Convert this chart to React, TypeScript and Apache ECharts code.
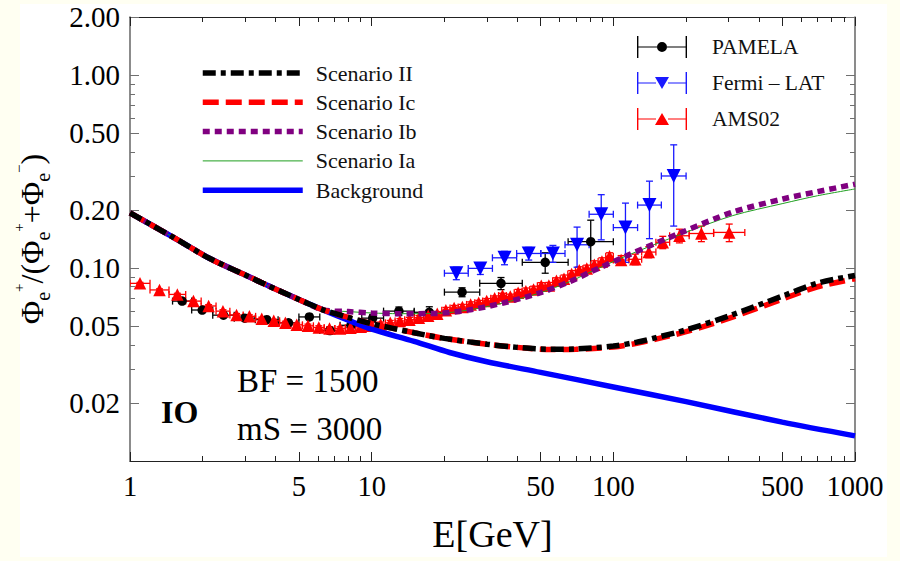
import { useEffect, useRef } from 'react';
import * as echarts from 'echarts';

// ---------- tick values ----------
const xMajor = [1, 5, 10, 50, 100, 500, 1000];
const xMinor = [2, 3, 4, 6, 7, 8, 9, 20, 30, 40, 60, 70, 80, 90, 200, 300, 400, 600, 700, 800, 900];
const yMajor = [0.02, 0.05, 0.1, 0.2, 0.5, 1, 2];
const yMinor = [0.03, 0.04, 0.06, 0.07, 0.08, 0.09, 0.3, 0.4, 0.6, 0.7, 0.8, 0.9];

// ---------- model curves ----------
// common low-energy part (all curves coincide with the background)
const sharedE = [1, 1.5, 2.14, 3, 3.55, 5, 6.29];
const sharedV = [0.193, 0.145, 0.112, 0.092, 0.0833, 0.0687, 0.0607];

const bgE = [8, 10, 15, 21, 30, 50, 100, 200, 500, 1000];
const bgV = [0.0537, 0.0482, 0.0417, 0.0365, 0.0327, 0.0288, 0.0242, 0.0203, 0.0159, 0.0135];

const scIIE = [8, 10, 15, 20, 30, 40, 55, 70, 100, 125, 150, 200, 300, 500, 700, 1000];
const scIIV = [0.0555, 0.0515, 0.0462, 0.0432, 0.0403, 0.0388, 0.0379, 0.0381, 0.0394, 0.0413, 0.0436, 0.0478, 0.0564, 0.0715, 0.0835, 0.0915];
const scIcV = [0.0555, 0.0515, 0.0462, 0.0432, 0.0403, 0.0388, 0.0378, 0.0379, 0.039, 0.0407, 0.0428, 0.0468, 0.0548, 0.069, 0.08, 0.088];

const scIbE = [8, 10, 13, 18.6, 25, 35, 50, 66, 80, 114, 194, 312, 503, 700, 1000];
const scIbV = [0.0595, 0.0585, 0.058, 0.0582, 0.0605, 0.0659, 0.0745, 0.085, 0.0951, 0.116, 0.154, 0.195, 0.228, 0.249, 0.272];
const scIaV = [0.0595, 0.0585, 0.058, 0.0582, 0.0605, 0.0659, 0.0745, 0.085, 0.0951, 0.116, 0.151, 0.187, 0.216, 0.237, 0.257];

// ---------- data: PAMELA ----------
const pamLo = [1.5, 1.8, 2.2, 2.7, 3.3, 4.1, 5.0, 6.1, 7.4, 9.1, 11.2, 15, 20, 28, 42, 65];
const pamHi = [1.8, 2.2, 2.7, 3.3, 4.1, 5.0, 6.1, 7.4, 9.1, 11.2, 15, 20, 28, 42, 65, 100];
const pamV = [0.0674, 0.0606, 0.057, 0.055, 0.054, 0.052, 0.0558, 0.0474, 0.0505, 0.055, 0.0598, 0.059, 0.075, 0.0833, 0.107, 0.137];
const pamErr = [0.0015, 0.0015, 0.0015, 0.0015, 0.0015, 0.0015, 0.0018, 0.002, 0.0022, 0.0025, 0.003, 0.004, 0.004, 0.006, 0.013, 0.04];

// ---------- data: Fermi-LAT ----------
const fermiLo = [20, 25.1, 31.6, 39.8, 50.1, 63.1, 79.4, 100, 126, 158];
const fermiHi = [25.1, 31.6, 39.8, 50.1, 63.1, 79.4, 100, 126, 158, 200];
const fermiV = [0.094, 0.0996, 0.113, 0.119, 0.119, 0.132, 0.19, 0.162, 0.212, 0.3];
const fermiErr = [0.007, 0.007, 0.009, 0.009, 0.012, 0.031, 0.05, 0.055, 0.07, 0.135];

// ---------- data: AMS02 ----------
const amsEdges = [1.0, 1.21, 1.45, 1.7, 1.97, 2.27, 2.59, 2.94, 3.31, 3.72, 4.16, 4.64, 5.17, 5.74, 6.36, 7.04, 7.78, 8.59, 9.46, 10.4,
  11.4, 12.5, 13.7, 15.0, 16.4, 17.9, 19.5, 21.1, 22.8, 24.7, 26.7, 28.8, 31.1, 33.5, 36.1, 38.9, 41.9, 45.1, 48.5, 52.2,
  56.1, 60.3, 64.8, 69.7, 74.9, 80.5, 86.5, 93.0, 100, 116, 131, 150, 171, 206, 260, 350];
const amsV = [0.0833, 0.077, 0.073, 0.0674, 0.0636, 0.0598, 0.0571, 0.0562, 0.0546, 0.0533, 0.052, 0.0508, 0.0502, 0.0492, 0.0486,
  0.0486, 0.049, 0.0497, 0.0502, 0.051, 0.052, 0.0532, 0.054, 0.0553, 0.0566, 0.058, 0.0605, 0.062, 0.0628, 0.0648,
  0.066, 0.0675, 0.0697, 0.072, 0.0712, 0.0745, 0.0758, 0.0775, 0.081, 0.0812, 0.086, 0.088, 0.093, 0.0975, 0.0995,
  0.104, 0.108, 0.115, 0.11, 0.111, 0.121, 0.136, 0.147, 0.151, 0.153];
const amsErr = [0.001, 0.001, 0.001, 0.001, 0.001, 0.001, 0.001, 0.001, 0.001, 0.001, 0.001, 0.001, 0.001, 0.001, 0.001,
  0.001, 0.001, 0.001, 0.001, 0.0015, 0.0015, 0.0015, 0.0015, 0.0015, 0.0015, 0.0015, 0.002, 0.002, 0.002, 0.002,
  0.002, 0.002, 0.002, 0.002, 0.002, 0.003, 0.003, 0.003, 0.003, 0.003, 0.003, 0.004, 0.004, 0.004, 0.004,
  0.005, 0.005, 0.005, 0.006, 0.007, 0.008, 0.01, 0.012, 0.014, 0.016];

const serif = '"Liberation Serif", "Times New Roman", Times, serif';
const thick = 5.5;

function pts(es: number[], vs: number[]) {
  return es.map((e, i) => [e, vs[i]]);
}
function binned(lo: number[], hi: number[], v: number[], err: number[]) {
  return v.map((val, i) => [Math.sqrt(lo[i] * hi[i]), val, lo[i], hi[i], err[i]]);
}

const pamData = binned(pamLo, pamHi, pamV, pamErr);
const fermiData = binned(fermiLo, fermiHi, fermiV, fermiErr);
const amsData = binned(amsEdges.slice(0, -1), amsEdges.slice(1), amsV, amsErr);

function errRender(color: string) {
  return (params: any, api: any) => {
    const E = api.value(0), v = api.value(1), lo = api.value(2), hi = api.value(3), err = api.value(4);
    const l = api.coord([lo, v]);
    const r = api.coord([hi, v]);
    const t = api.coord([E, v + err]);
    const b = api.coord([E, Math.max(v - err, 1e-4)]);
    const cap = 3.5;
    const s = { stroke: color, lineWidth: 1.3 };
    return {
      type: 'group',
      children: [
        { type: 'line', shape: { x1: l[0], y1: l[1], x2: r[0], y2: r[1] }, style: s },
        { type: 'line', shape: { x1: l[0], y1: l[1] - cap, x2: l[0], y2: l[1] + cap }, style: s },
        { type: 'line', shape: { x1: r[0], y1: r[1] - cap, x2: r[0], y2: r[1] + cap }, style: s },
        { type: 'line', shape: { x1: t[0], y1: t[1], x2: b[0], y2: b[1] }, style: s },
        { type: 'line', shape: { x1: t[0] - cap, y1: t[1], x2: t[0] + cap, y2: t[1] }, style: s },
        { type: 'line', shape: { x1: b[0] - cap, y1: b[1], x2: b[0] + cap, y2: b[1] }, style: s },
      ],
    };
  };
}

const barsBase = 'M0 0h1.4v22h-1.4Z M48.6 0h1.4v22h-1.4Z ';
const pamIcon = 'path://' + barsBase + 'M0 10.4h20v1.2h-20Z M30 10.4h20v1.2h-20Z M20 11a5 5 0 1 1 10 0a5 5 0 1 1 -10 0Z';
const fermiIcon = 'path://' + barsBase + 'M0 10.4h19v1.2h-19Z M31 10.4h19v1.2h-19Z M18 5L32 5L25 17Z';
const amsIcon = 'path://' + barsBase + 'M0 10.4h19v1.2h-19Z M31 10.4h19v1.2h-19Z M25 5L32 17L18 17Z';

const hFrame = '#222';
const vFrame = '#6f6f6f';

function xAx(position: string, major: boolean, main: boolean) {
  return {
    type: 'log', logBase: 10, min: 1, max: 1000, position,
    axisLine: { show: major, onZero: false, lineStyle: { color: hFrame, width: 1 } },
    axisTick: { show: true, inside: true, length: major ? 9 : 5, customValues: major ? xMajor : xMinor, lineStyle: { color: hFrame, width: 1 } },
    axisLabel: main
      ? { show: true, customValues: xMajor, formatter: (v: any) => String(Math.round(Number(v))), margin: 11, fontSize: 28.5, fontFamily: serif, color: '#000' }
      : { show: false },
    splitLine: { show: false },
    minorTick: { show: false },
    ...(main ? { name: 'E[GeV]', nameLocation: 'middle', nameGap: 51, nameTextStyle: { fontSize: 38, fontFamily: serif, color: '#000', lineHeight: 44 } } : {}),
  };
}
function yAx(position: string, major: boolean, main: boolean) {
  return {
    type: 'log', logBase: 10, min: 0.01, max: 2, position,
    axisLine: { show: major, onZero: false, lineStyle: { color: vFrame, width: 1.6 } },
    axisTick: { show: true, inside: true, length: major ? 9 : 5, customValues: major ? yMajor : yMinor, lineStyle: { color: vFrame, width: 1 } },
    axisLabel: main
      ? { show: true, customValues: yMajor, formatter: (v: any) => Number(v).toFixed(2), margin: 10, fontSize: 29, fontFamily: serif, color: '#000' }
      : { show: false },
    splitLine: { show: false },
    minorTick: { show: false },
    ...(main ? {
      name: '{m|Φ}{s|e}{p|+}{m|/(Φ}{s|e}{p|+}{m|+Φ}{s|e}{p|−}{m|)}',
      nameLocation: 'middle', nameGap: 77, nameRotate: 90,
      nameTextStyle: {
        rich: {
          m: { fontSize: 32, fontFamily: serif, color: '#000', lineHeight: 42, verticalAlign: 'middle' },
          s: { fontSize: 20, fontFamily: serif, color: '#000', lineHeight: 16, verticalAlign: 'bottom' },
          p: { fontSize: 15, fontFamily: serif, color: '#000', lineHeight: 33, verticalAlign: 'top' },
        },
      },
    } : {}),
  };
}

function lineSeries(name: string, data: number[][], color: string, width: number, type: any) {
  return {
    name, type: 'line', data, showSymbol: false, symbol: 'none', smooth: 0.3, clip: true, silent: true,
    lineStyle: { color, width, type, cap: 'butt' }, itemStyle: { color },
  };
}

function errSeries(name: string, data: number[][], color: string) {
  return { name, type: 'custom', data, renderItem: errRender(color), encode: { x: 0, y: 1 }, clip: true, silent: true, itemStyle: { color } };
}
function markSeries(name: string, data: number[][], color: string, symbol: string, size: number, rot: number) {
  return {
    name, type: 'scatter', data: data.map((d) => [d[0], d[1]]), symbol, symbolSize: size, symbolRotate: rot,
    itemStyle: { color, opacity: 1 }, silent: true, clip: true,
  };
}

const option: any = {
  animation: false,
  backgroundColor: '#fffff2',
  textStyle: { fontFamily: serif },
  grid: { left: 130, top: 17, width: 725, height: 447, containLabel: false },
  xAxis: [xAx('bottom', true, true), xAx('bottom', false, false), xAx('top', true, false), xAx('top', false, false)],
  yAxis: [yAx('left', true, true), yAx('left', false, false), yAx('right', true, false), yAx('right', false, false)],
  legend: [
    {
      data: [
        { name: 'Scenario II', lineStyle: { width: thick } },
        { name: 'Scenario Ic', lineStyle: { width: thick } },
        { name: 'Scenario Ib', lineStyle: { width: thick } },
        { name: 'Scenario Ia', lineStyle: { width: 1 } },
        { name: 'Background', lineStyle: { width: thick } },
      ],
      orient: 'vertical', left: 200, top: 62, padding: 0, itemWidth: 100, itemHeight: 14, itemGap: 7.3, selectedMode: false,
      itemStyle: { opacity: 0 },
      textStyle: { fontFamily: serif, fontSize: 22, color: '#111', lineHeight: 22, padding: [0, 0, 0, 8] },
    },
    {
      data: [{ name: 'PAMELA', icon: pamIcon }, { name: 'Fermi – LAT', icon: fermiIcon }, { name: 'AMS02', icon: amsIcon }],
      orient: 'vertical', left: 637, top: 36, padding: 0, itemWidth: 50, itemHeight: 22, itemGap: 14, selectedMode: false,
      textStyle: { fontFamily: serif, fontSize: 21.5, color: '#111', lineHeight: 22, padding: [0, 0, 0, 20] },
    },
  ],
  graphic: [
    { type: 'rect', z: -10, silent: true, shape: { x: 20, y: 4, width: 867, height: 553 }, style: { fill: '#ffffff' } },
    { type: 'text', x: 237, y: 381, silent: true, style: { text: 'BF = 1500', fontSize: 33, fontFamily: serif, fill: '#000', align: 'left', verticalAlign: 'middle' } },
    { type: 'text', x: 237, y: 429, silent: true, style: { text: 'mS = 3000', fontSize: 33, fontFamily: serif, fill: '#000', align: 'left', verticalAlign: 'middle' } },
    { type: 'text', x: 161, y: 412, silent: true, style: { text: 'IO', fontSize: 32, fontWeight: 'bold', fontFamily: serif, fill: '#000', align: 'left', verticalAlign: 'middle' } },
  ],
  series: [
    errSeries('PAMELA', pamData, '#000000'),
    markSeries('PAMELA', pamData, '#000000', 'circle', 9.5, 0),
    errSeries('AMS02', amsData, '#ff0000'),
    markSeries('AMS02', amsData, '#ff0000', 'triangle', 12.5, 0),
    errSeries('Fermi – LAT', fermiData, '#1a1aff'),
    markSeries('Fermi – LAT', fermiData, '#0000ff', 'triangle', 14, 180),
    lineSeries('Background', pts(sharedE.concat(bgE), sharedV.concat(bgV)), '#0000ff', thick, 'solid'),
    lineSeries('Scenario Ia', pts(sharedE.concat(scIbE), sharedV.concat(scIaV)), '#1f9f1f', 1, 'solid'),
    lineSeries('Scenario Ib', pts(sharedE.concat(scIbE), sharedV.concat(scIbV)), '#800080', thick, [7, 5]),
    lineSeries('Scenario Ic', pts(sharedE.concat(scIIE), sharedV.concat(scIcV)), '#ff0000', thick, [16, 7]),
    lineSeries('Scenario II', pts(sharedE.concat(scIIE), sharedV.concat(scIIV)), '#000000', thick, [13, 5, 5, 5]),
  ],
};

export default function App() {
  const ref = useRef<HTMLDivElement>(null);
  useEffect(() => {
    if (!ref.current) return;
    const chart = echarts.init(ref.current, null, { renderer: 'svg' });
    chart.setOption(option);
    return () => chart.dispose();
  }, []);
  return <div ref={ref} style={{ position: 'fixed', left: 0, top: 0, width: 900, height: 561 }} />;
}
